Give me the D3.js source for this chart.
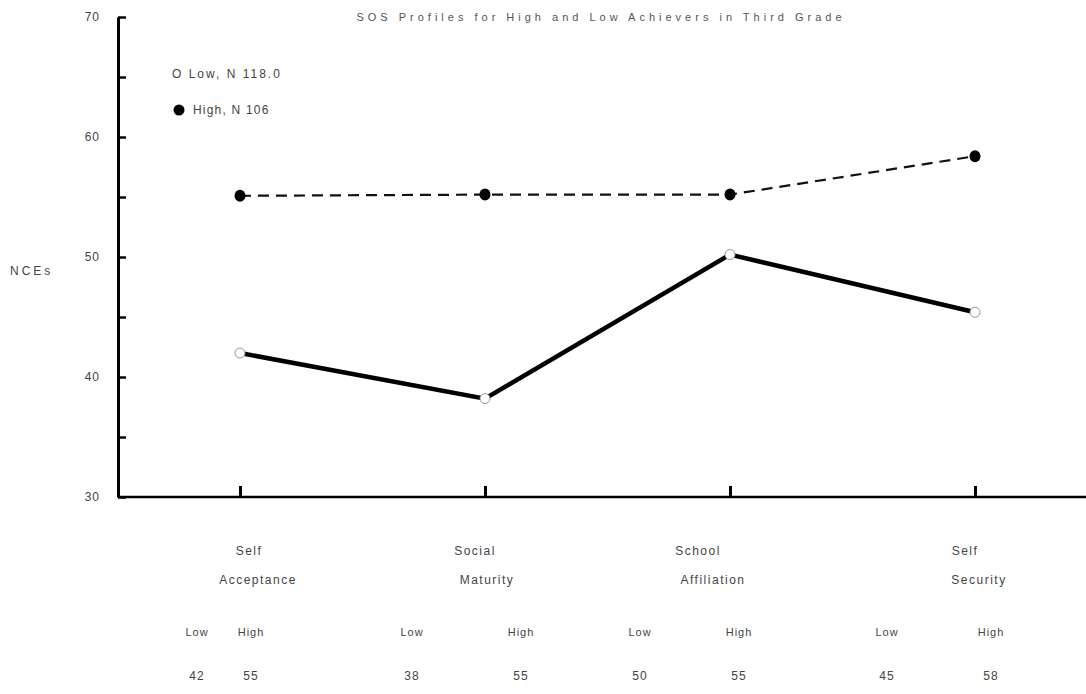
<!DOCTYPE html>
<html><head><meta charset="utf-8">
<script src="https://cdn.jsdelivr.net/npm/d3@7"></script>
<style>html,body{margin:0;padding:0;background:#fff;}svg{display:block;}</style>
</head><body>
<script>
const categories = ["Self Acceptance", "Social Maturity", "School Affiliation", "Self Security"];
const categoryLines = [["Self", "Acceptance"], ["Social", "Maturity"], ["School", "Affiliation"], ["Self", "Security"]];
// plotted positions
const lowValues = [42, 38.2, 50.2, 45.4];
const highValues = [55.1, 55.2, 55.2, 58.4];
// rounded values printed in the table under the chart
const lowTable = [42, 38, 50, 45];
const highTable = [55, 55, 55, 58];
const yTicks = [30, 35, 40, 45, 50, 55, 60, 65, 70];
const title = "SOS Profiles for High and Low Achievers in Third Grade";
const legendLow = "Low, N 118.0";
const legendHigh = "High, N 106";
const yLabel = "NCEs";

const W = 1086, H = 694;
const svg = d3.select("body").append("svg").attr("width", W).attr("height", H)
  .style("font-family", "'Liberation Sans', Arial, sans-serif");

const x = d3.scalePoint().domain(categories).range([240, 975]);
const y = d3.scaleLinear().domain([30, 70]).range([497, 17]);
const axisX = 118;
const textCol = "#444";

// Y axis
const yAxis = svg.append("g").attr("transform", `translate(${axisX},0)`)
  .call(d3.axisLeft(y).tickValues(yTicks).tickSizeInner(-8).tickSizeOuter(0).tickPadding(18)
    .tickFormat(d => d % 10 === 0 ? d : ""));
yAxis.select(".domain").attr("stroke", "#000").attr("stroke-width", 3);
yAxis.selectAll(".tick line").attr("stroke", "#000").attr("stroke-width", 2.5);
yAxis.selectAll(".tick text").attr("fill", textCol).style("font-size", "12px")
  .style("letter-spacing", "1px")
  .style("font-family", "'Liberation Sans', Arial, sans-serif");

// X axis
const xAxis = svg.append("g").attr("transform", `translate(0,${y(30)})`)
  .call(d3.axisTop(x).tickSize(11).tickFormat(""));
xAxis.select(".domain").attr("d", `M${axisX},0H${W}`).attr("stroke", "#000").attr("stroke-width", 2.5);
xAxis.selectAll(".tick line").attr("stroke", "#000").attr("stroke-width", 3);

// Lines
const lowData = categories.map((c, i) => ({c, v: lowValues[i]}));
const highData = categories.map((c, i) => ({c, v: highValues[i]}));
const line = d3.line().x(d => x(d.c)).y(d => y(d.v));

svg.append("path").datum(highData).attr("d", line)
  .attr("fill", "none").attr("stroke", "#111").attr("stroke-width", 2.2)
  .attr("stroke-dasharray", "11,7");
svg.append("path").datum(lowData).attr("d", line)
  .attr("fill", "none").attr("stroke", "#000").attr("stroke-width", 4.5);

svg.selectAll(".hp").data(highData).enter().append("ellipse")
  .attr("cx", d => x(d.c)).attr("cy", d => y(d.v)).attr("rx", 5.5).attr("ry", 6)
  .attr("fill", "#000");
svg.selectAll(".lp").data(lowData).enter().append("circle")
  .attr("cx", d => x(d.c)).attr("cy", d => y(d.v)).attr("r", 5)
  .attr("fill", "#fff").attr("stroke", "#999").attr("stroke-width", 1);

// Title
svg.append("text").attr("x", 601).attr("y", 21).attr("text-anchor", "middle")
  .attr("fill", "#555").style("font-size", "11px").style("letter-spacing", "4px").text(title);

// Legend
svg.append("text").attr("x", 172).attr("y", 78).attr("fill", textCol)
  .style("font-size", "12px").style("letter-spacing", "2px").text("O " + legendLow);
svg.append("circle").attr("cx", 179).attr("cy", 110).attr("r", 5.5).attr("fill", "#000");
svg.append("text").attr("x", 193).attr("y", 114).attr("fill", textCol)
  .style("font-size", "12px").style("letter-spacing", "1.2px").text(legendHigh);

// Y label
svg.append("text").attr("x", 10).attr("y", 275).attr("fill", textCol)
  .style("font-size", "12px").style("letter-spacing", "3px").text(yLabel);

// Category labels
const catOffsets = [[9, 18], [-10, 2], [-32, -17], [-10, 4]];
categoryLines.forEach((lines, i) => {
  const cx = x(categories[i]);
  svg.append("text").attr("x", cx + catOffsets[i][0]).attr("y", 555).attr("text-anchor", "middle")
    .attr("fill", textCol).style("font-size", "12px").style("letter-spacing", "1.5px").text(lines[0]);
  svg.append("text").attr("x", cx + catOffsets[i][1]).attr("y", 584).attr("text-anchor", "middle")
    .attr("fill", textCol).style("font-size", "12px").style("letter-spacing", "1.5px").text(lines[1]);
});

// Table of values
const lowCols = [197, 412, 640, 887];
const highCols = [251, 521, 739, 991];
categories.forEach((c, i) => {
  svg.append("text").attr("x", lowCols[i]).attr("y", 636).attr("text-anchor", "middle")
    .attr("fill", textCol).style("font-size", "11px").style("letter-spacing", "1px").text("Low");
  svg.append("text").attr("x", highCols[i]).attr("y", 636).attr("text-anchor", "middle")
    .attr("fill", textCol).style("font-size", "11px").style("letter-spacing", "1px").text("High");
  svg.append("text").attr("x", lowCols[i]).attr("y", 680).attr("text-anchor", "middle")
    .attr("fill", textCol).style("font-size", "12px").style("letter-spacing", "1px").text(lowTable[i]);
  svg.append("text").attr("x", highCols[i]).attr("y", 680).attr("text-anchor", "middle")
    .attr("fill", textCol).style("font-size", "12px").style("letter-spacing", "1px").text(highTable[i]);
});
</script>
</body></html>
